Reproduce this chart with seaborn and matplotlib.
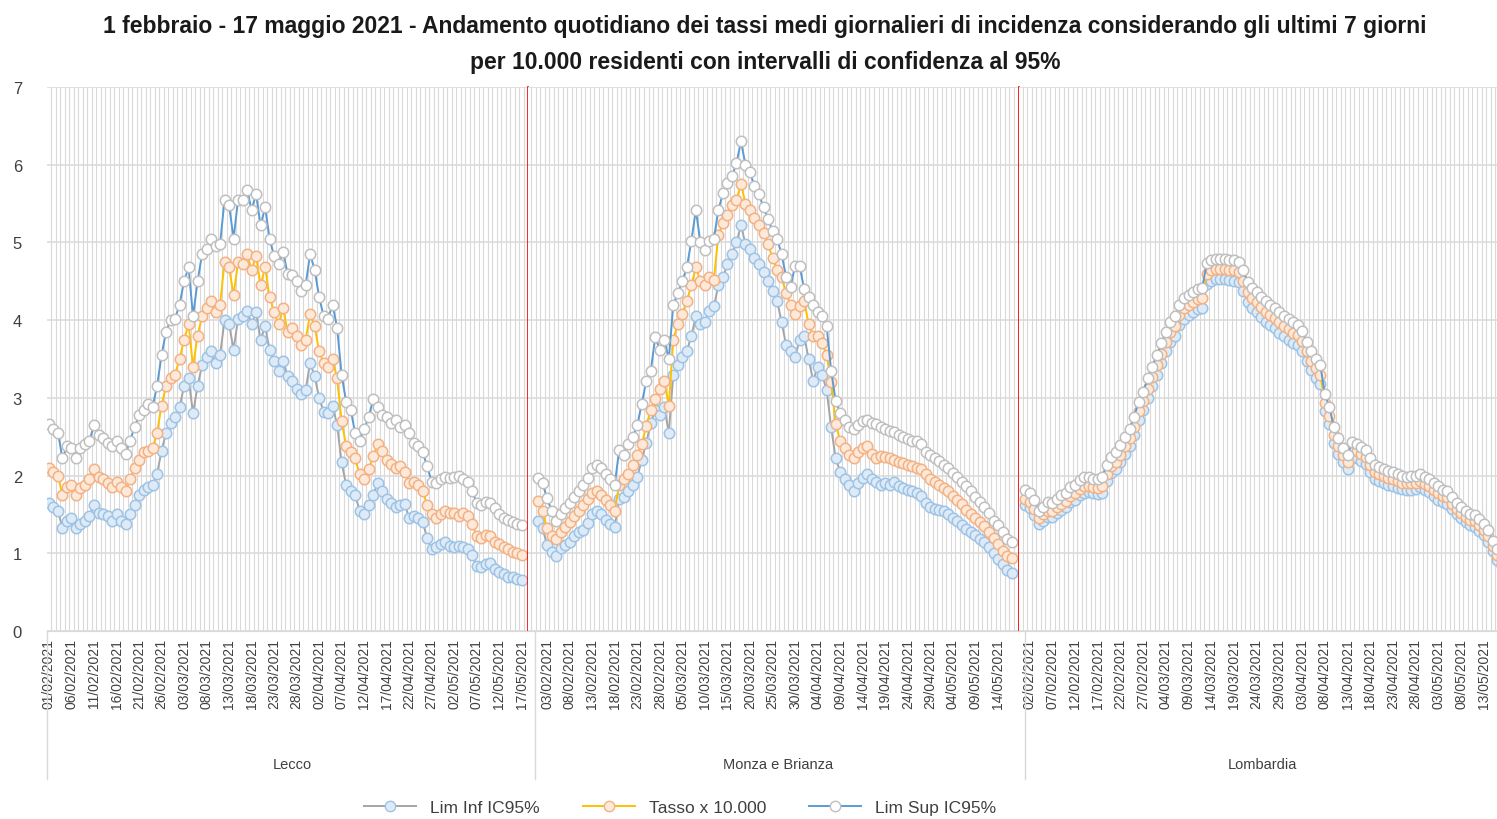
import numpy as np
import pandas as pd
import seaborn as sns
import matplotlib.pyplot as plt
from matplotlib.lines import Line2D
import matplotlib.transforms as mtransforms

plt.rcParams['font.family'] = ['Liberation Sans', 'DejaVu Sans']

# giorni 01/02/2021 - 17/05/2021
giorni = pd.date_range('2021-02-01', '2021-05-17', freq='D')
etichette = list(giorni.strftime('%d/%m/%Y'))

# ---- Lecco ----
lecco_inf = [1.65, 1.60, 1.55, 1.32, 1.42, 1.45, 1.32, 1.38, 1.42, 1.48,
             1.62, 1.52, 1.50, 1.48, 1.42, 1.50, 1.42, 1.38, 1.50, 1.62,
             1.75, 1.82, 1.85, 1.88, 2.02, 2.32, 2.55, 2.68, 2.75, 2.88,
             3.15, 3.25, 2.80, 3.15, 3.42, 3.52, 3.60, 3.45, 3.55, 4.00,
             3.95, 3.62, 4.02, 4.05, 4.12, 3.95, 4.10, 3.75, 3.92, 3.62,
             3.48, 3.35, 3.48, 3.28, 3.22, 3.12, 3.05, 3.10, 3.45, 3.28,
             3.00, 2.82, 2.80, 2.90, 2.65, 2.17, 1.88, 1.80, 1.75, 1.55,
             1.50, 1.62, 1.75, 1.90, 1.80, 1.70, 1.65, 1.60, 1.62, 1.64,
             1.45, 1.48, 1.45, 1.40, 1.20, 1.05, 1.08, 1.12, 1.14, 1.10,
             1.08, 1.10, 1.08, 1.05, 0.98, 0.84, 0.82, 0.86, 0.88, 0.80,
             0.76, 0.73, 0.70, 0.69, 0.67, 0.65]
lecco_tasso = [2.10, 2.05, 2.00, 1.75, 1.85, 1.88, 1.75, 1.84, 1.88, 1.95,
               2.08, 1.98, 1.95, 1.90, 1.85, 1.92, 1.85, 1.80, 1.95, 2.10,
               2.20, 2.30, 2.32, 2.35, 2.55, 2.90, 3.15, 3.25, 3.30, 3.50,
               3.75, 3.95, 3.40, 3.80, 4.05, 4.15, 4.25, 4.10, 4.20, 4.75,
               4.68, 4.32, 4.75, 4.72, 4.85, 4.65, 4.82, 4.45, 4.68, 4.30,
               4.10, 3.95, 4.15, 3.85, 3.90, 3.80, 3.68, 3.75, 4.08, 3.92,
               3.60, 3.45, 3.40, 3.50, 3.25, 2.70, 2.38, 2.30, 2.22, 2.02,
               1.95, 2.08, 2.25, 2.40, 2.32, 2.20, 2.15, 2.10, 2.12, 2.05,
               1.90, 1.92, 1.88, 1.80, 1.62, 1.50, 1.45, 1.50, 1.55, 1.52,
               1.52, 1.48, 1.52, 1.48, 1.38, 1.22, 1.20, 1.24, 1.22, 1.15,
               1.12, 1.08, 1.05, 1.02, 1.00, 0.98]
lecco_sup = [2.66, 2.60, 2.55, 2.22, 2.38, 2.35, 2.22, 2.35, 2.40, 2.45,
             2.65, 2.52, 2.48, 2.42, 2.38, 2.45, 2.35, 2.28, 2.45, 2.62,
             2.78, 2.85, 2.92, 2.88, 3.15, 3.55, 3.85, 4.00, 4.02, 4.20,
             4.50, 4.68, 4.05, 4.50, 4.85, 4.92, 5.05, 4.95, 4.98, 5.55,
             5.48, 5.05, 5.55, 5.55, 5.68, 5.42, 5.62, 5.22, 5.45, 5.05,
             4.82, 4.72, 4.88, 4.60, 4.58, 4.50, 4.38, 4.45, 4.85, 4.65,
             4.30, 4.05, 4.02, 4.20, 3.90, 3.30, 2.95, 2.85, 2.55, 2.45,
             2.60, 2.75, 2.98, 2.88, 2.78, 2.75, 2.68, 2.72, 2.62, 2.65,
             2.55, 2.42, 2.38, 2.30, 2.12, 1.92, 1.90, 1.95, 1.98, 1.97,
             1.98, 2.00, 1.95, 1.92, 1.80, 1.65, 1.62, 1.66, 1.65, 1.58,
             1.50, 1.46, 1.43, 1.40, 1.38, 1.36]

# ---- Monza e Brianza ----
monza_inf = [1.41, 1.32, 1.11, 1.02, 0.96, 1.07, 1.11, 1.15, 1.22, 1.28,
             1.30, 1.39, 1.50, 1.54, 1.50, 1.43, 1.38, 1.34, 1.70, 1.72,
             1.80, 1.88, 1.98, 2.20, 2.42, 2.68, 2.85, 2.78, 2.88, 2.55,
             3.30, 3.42, 3.52, 3.60, 3.80, 4.05, 3.95, 3.98, 4.12, 4.18,
             4.45, 4.55, 4.72, 4.85, 5.00, 5.22, 4.98, 4.92, 4.80, 4.72,
             4.62, 4.50, 4.38, 4.25, 3.98, 3.68, 3.60, 3.52, 3.75, 3.80,
             3.50, 3.22, 3.40, 3.30, 3.10, 2.62, 2.22, 2.05, 1.95, 1.88,
             1.80, 1.90, 1.97, 2.02, 1.95, 1.92, 1.88, 1.90, 1.88, 1.92,
             1.86, 1.84, 1.82, 1.80, 1.78, 1.74, 1.65, 1.60, 1.57, 1.56,
             1.54, 1.50, 1.45, 1.42, 1.37, 1.31, 1.28, 1.24, 1.19, 1.14,
             1.08, 1.00, 0.93, 0.86, 0.79, 0.75]
monza_tasso = [1.67, 1.54, 1.32, 1.22, 1.19, 1.28, 1.34, 1.40, 1.48, 1.55,
               1.62, 1.70, 1.78, 1.80, 1.75, 1.68, 1.62, 1.55, 1.88, 1.95,
               2.02, 2.14, 2.27, 2.40, 2.64, 2.85, 2.98, 3.12, 3.22, 2.90,
               3.75, 3.95, 4.08, 4.25, 4.45, 4.68, 4.50, 4.45, 4.55, 4.52,
               5.10, 5.25, 5.35, 5.48, 5.55, 5.75, 5.50, 5.42, 5.32, 5.22,
               5.12, 4.98, 4.80, 4.65, 4.55, 4.35, 4.20, 4.08, 4.18, 4.25,
               3.95, 3.80, 3.80, 3.70, 3.55, 3.20, 2.66, 2.45, 2.35, 2.27,
               2.22, 2.30, 2.35, 2.38, 2.28, 2.23, 2.25, 2.24, 2.22, 2.20,
               2.18, 2.16, 2.14, 2.12, 2.10, 2.08, 2.02, 1.96, 1.92, 1.88,
               1.84, 1.80, 1.74, 1.69, 1.63, 1.56, 1.50, 1.46, 1.40, 1.35,
               1.28, 1.20, 1.12, 1.03, 0.97, 0.94]
monza_sup = [1.97, 1.90, 1.71, 1.55, 1.41, 1.50, 1.58, 1.65, 1.72, 1.80,
             1.88, 1.97, 2.10, 2.14, 2.10, 2.02, 1.95, 1.88, 2.33, 2.27,
             2.40, 2.50, 2.65, 2.92, 3.22, 3.35, 3.78, 3.62, 3.75, 3.50,
             4.20, 4.35, 4.50, 4.68, 5.02, 5.42, 5.00, 4.90, 5.02, 5.05,
             5.42, 5.63, 5.76, 5.85, 6.02, 6.30, 6.00, 5.90, 5.72, 5.62,
             5.45, 5.30, 5.15, 5.05, 4.85, 4.56, 4.43, 4.70, 4.70, 4.40,
             4.30, 4.20, 4.10, 4.05, 3.92, 3.35, 2.96, 2.80, 2.72, 2.62,
             2.60, 2.65, 2.70, 2.72, 2.68, 2.66, 2.62, 2.60, 2.57, 2.56,
             2.52, 2.49, 2.47, 2.45, 2.44, 2.40, 2.30, 2.26, 2.22, 2.19,
             2.14, 2.10, 2.03, 1.98, 1.92, 1.86, 1.80, 1.72, 1.66, 1.60,
             1.52, 1.42, 1.36, 1.27, 1.18, 1.14]

# ---- Lombardia ----
lomb_inf = [1.62, 1.58, 1.49, 1.38, 1.42, 1.47, 1.47, 1.52, 1.56, 1.59,
            1.66, 1.69, 1.75, 1.78, 1.79, 1.77, 1.76, 1.78, 1.93, 2.03,
            2.09, 2.18, 2.28, 2.38, 2.52, 2.72, 2.85, 3.00, 3.15, 3.30,
            3.45, 3.60, 3.72, 3.80, 3.94, 4.02, 4.06, 4.10, 4.14, 4.16,
            4.47, 4.51, 4.53, 4.53, 4.53, 4.52, 4.51, 4.49, 4.38, 4.23,
            4.16, 4.10, 4.04, 3.98, 3.94, 3.90, 3.84, 3.79, 3.75, 3.71,
            3.68, 3.60, 3.48, 3.36, 3.26, 3.18, 2.83, 2.66, 2.42, 2.28,
            2.17, 2.08, 2.23, 2.22, 2.19, 2.15, 2.04, 1.96, 1.93, 1.91,
            1.88, 1.86, 1.84, 1.83, 1.82, 1.82, 1.83, 1.85, 1.81, 1.79,
            1.74, 1.69, 1.66, 1.64, 1.57, 1.50, 1.45, 1.40, 1.36, 1.34,
            1.29, 1.23, 1.15, 1.03, 0.92, 0.83]
lomb_tasso = [1.70, 1.66, 1.57, 1.45, 1.50, 1.55, 1.55, 1.60, 1.64, 1.67,
              1.74, 1.77, 1.83, 1.86, 1.87, 1.85, 1.84, 1.86, 2.02, 2.12,
              2.18, 2.27, 2.38, 2.48, 2.62, 2.83, 2.96, 3.12, 3.27, 3.42,
              3.57, 3.72, 3.85, 3.92, 4.06, 4.15, 4.19, 4.23, 4.27, 4.29,
              4.60, 4.64, 4.66, 4.66, 4.66, 4.65, 4.64, 4.62, 4.51, 4.36,
              4.29, 4.23, 4.17, 4.11, 4.07, 4.03, 3.97, 3.92, 3.88, 3.84,
              3.81, 3.73, 3.60, 3.48, 3.38, 3.30, 2.94, 2.77, 2.52, 2.38,
              2.26, 2.17, 2.33, 2.31, 2.28, 2.24, 2.13, 2.05, 2.02, 2.00,
              1.97, 1.95, 1.93, 1.91, 1.90, 1.90, 1.91, 1.93, 1.89, 1.87,
              1.82, 1.77, 1.74, 1.72, 1.64, 1.57, 1.52, 1.47, 1.43, 1.41,
              1.36, 1.30, 1.22, 1.09, 0.98, 0.88]
lomb_sup = [1.81, 1.78, 1.68, 1.55, 1.60, 1.66, 1.65, 1.70, 1.75, 1.78,
            1.85, 1.88, 1.94, 1.98, 1.98, 1.96, 1.95, 1.98, 2.13, 2.24,
            2.30, 2.39, 2.50, 2.60, 2.75, 2.95, 3.08, 3.25, 3.40, 3.55,
            3.70, 3.85, 3.98, 4.05, 4.19, 4.28, 4.32, 4.36, 4.40, 4.42,
            4.73, 4.77, 4.79, 4.79, 4.79, 4.78, 4.77, 4.75, 4.64, 4.49,
            4.41, 4.36, 4.30, 4.24, 4.20, 4.16, 4.10, 4.05, 4.01, 3.97,
            3.94, 3.86, 3.72, 3.60, 3.50, 3.42, 3.05, 2.88, 2.62, 2.48,
            2.35, 2.26, 2.43, 2.40, 2.37, 2.33, 2.22, 2.14, 2.11, 2.09,
            2.06, 2.04, 2.02, 2.00, 1.98, 1.99, 2.00, 2.02, 1.98, 1.96,
            1.91, 1.86, 1.82, 1.80, 1.72, 1.65, 1.60, 1.55, 1.51, 1.49,
            1.44, 1.38, 1.30, 1.16, 1.05, 0.94]

pannelli = [
    # nome, inf, tasso, sup, prima etichetta, xlim, posizione asse (px)
    ('Lecco', lecco_inf, lecco_tasso, lecco_sup, 0, (-0.44, 106.4), (47, 481)),
    ('Monza e Brianza', monza_inf, monza_tasso, monza_sup, 2, (-2.22, 106.65), (528, 491)),
    ('Lombardia', lomb_inf, lomb_tasso, lomb_sup, 1, (-1.33, 103.9), (1019, 478)),
]

stili = {
    'inf': dict(color='#a5a5a5', mfc='#deebf7', mec='#9dc3e6'),
    'tasso': dict(color='#ffc000', mfc='#fde9d9', mec='#f4b183'),
    'sup': dict(color='#5b9bd5', mfc='#ffffff', mec='#bfbfbf'),
}

W, H = 1497, 820
fig = plt.figure(figsize=(W / 100, H / 100), dpi=100)
griglia = '#d9d9d9'
testo = '#404040'

for k, (nome, inf, tasso, sup, off, xl, (x0, w)) in enumerate(pannelli):
    ax = fig.add_axes([x0 / W, 1 - 632 / H, w / W, 544 / H])
    df = pd.DataFrame({'giorno': np.arange(len(giorni)), 'inf': inf, 'tasso': tasso, 'sup': sup})
    for serie in ['inf', 'tasso', 'sup']:
        s = stili[serie]
        sns.lineplot(data=df, x='giorno', y=serie, ax=ax, errorbar=None,
                     color=s['color'], linewidth=1.4, marker='o', markersize=7.5,
                     markerfacecolor=s['mfc'], mec=s['mec'], mew=1.1)
    ax.set_xlabel('')
    ax.set_ylabel('')
    pos = np.arange(off, len(giorni), 5)
    pos = pos[pos <= xl[1]]
    ax.set_xticks(pos)
    ax.set_xticklabels([etichette[p] for p in pos], rotation=90, fontsize=10, color=testo)
    ax.set_xticks(np.arange(-3.5, 108, 1), minor=True)
    ax.set_yticks(range(0, 8))
    # limiti dopo i tick (set_xticks allarga la vista)
    ax.set_xlim(*xl)
    ax.set_ylim(0, 7)
    ax.grid(which='minor', axis='x', color=griglia, linewidth=0.8)
    ax.grid(which='major', axis='y', color=griglia, linewidth=1.1)
    ax.grid(which='major', axis='x', visible=False)
    ax.set_axisbelow(True)
    ax.tick_params(axis='both', which='both', length=0)
    ax.tick_params(axis='x', pad=5)
    if k == 0:
        ax.tick_params(axis='y', labelsize=12, labelcolor=testo, pad=18)
    else:
        ax.tick_params(axis='y', labelleft=False)
    for lato in ['top', 'left', 'bottom', 'right']:
        ax.spines[lato].set_visible(False)
    ax.spines['bottom'].set_visible(True)
    ax.spines['bottom'].set_color(griglia)
    if k < 2:
        ax.spines['right'].set_visible(True)
        ax.spines['right'].set_color('#ff0000')
        ax.spines['right'].set_linewidth(1.2)
    # separatore dei gruppi e nome del gruppo
    trans = mtransforms.blended_transform_factory(ax.transData, ax.transAxes)
    xs = [-0.44, -0.67, -0.1][k]
    ax.plot([xs, xs], [0, -0.272], transform=trans, clip_on=False, color=griglia, linewidth=1)
    ax.text(0.51, -0.245, nome, transform=ax.transAxes, ha='center', va='center',
            fontsize=10.5, color=testo)

maniglie = [
    Line2D([], [], color=stili['inf']['color'], lw=1.4, marker='o', ms=7.5,
           mfc=stili['inf']['mfc'], mec=stili['inf']['mec']),
    Line2D([], [], color=stili['tasso']['color'], lw=1.4, marker='o', ms=7.5,
           mfc=stili['tasso']['mfc'], mec=stili['tasso']['mec']),
    Line2D([], [], color=stili['sup']['color'], lw=1.4, marker='o', ms=7.5,
           mfc=stili['sup']['mfc'], mec=stili['sup']['mec']),
]
fig.legend(maniglie, ['Lim Inf IC95%', 'Tasso x 10.000', 'Lim Sup IC95%'],
           loc='center', bbox_to_anchor=(680 / W, 1 - 808 / H), ncol=3, frameon=False,
           fontsize=12.5, handlelength=3, columnspacing=2.5, labelcolor=testo)

fig.text(765 / W, 1 - 27 / H,
         '1 febbraio - 17 maggio 2021 - Andamento quotidiano dei tassi medi giornalieri '
         'di incidenza considerando gli ultimi 7 giorni',
         ha='center', va='center', fontsize=16.5, fontweight='bold', color='#1a1a1a')
fig.text(765 / W, 1 - 62 / H, 'per 10.000 residenti con intervalli di confidenza al 95%',
         ha='center', va='center', fontsize=16.5, fontweight='bold', color='#1a1a1a')

fig.savefig('out.png', dpi=100)
